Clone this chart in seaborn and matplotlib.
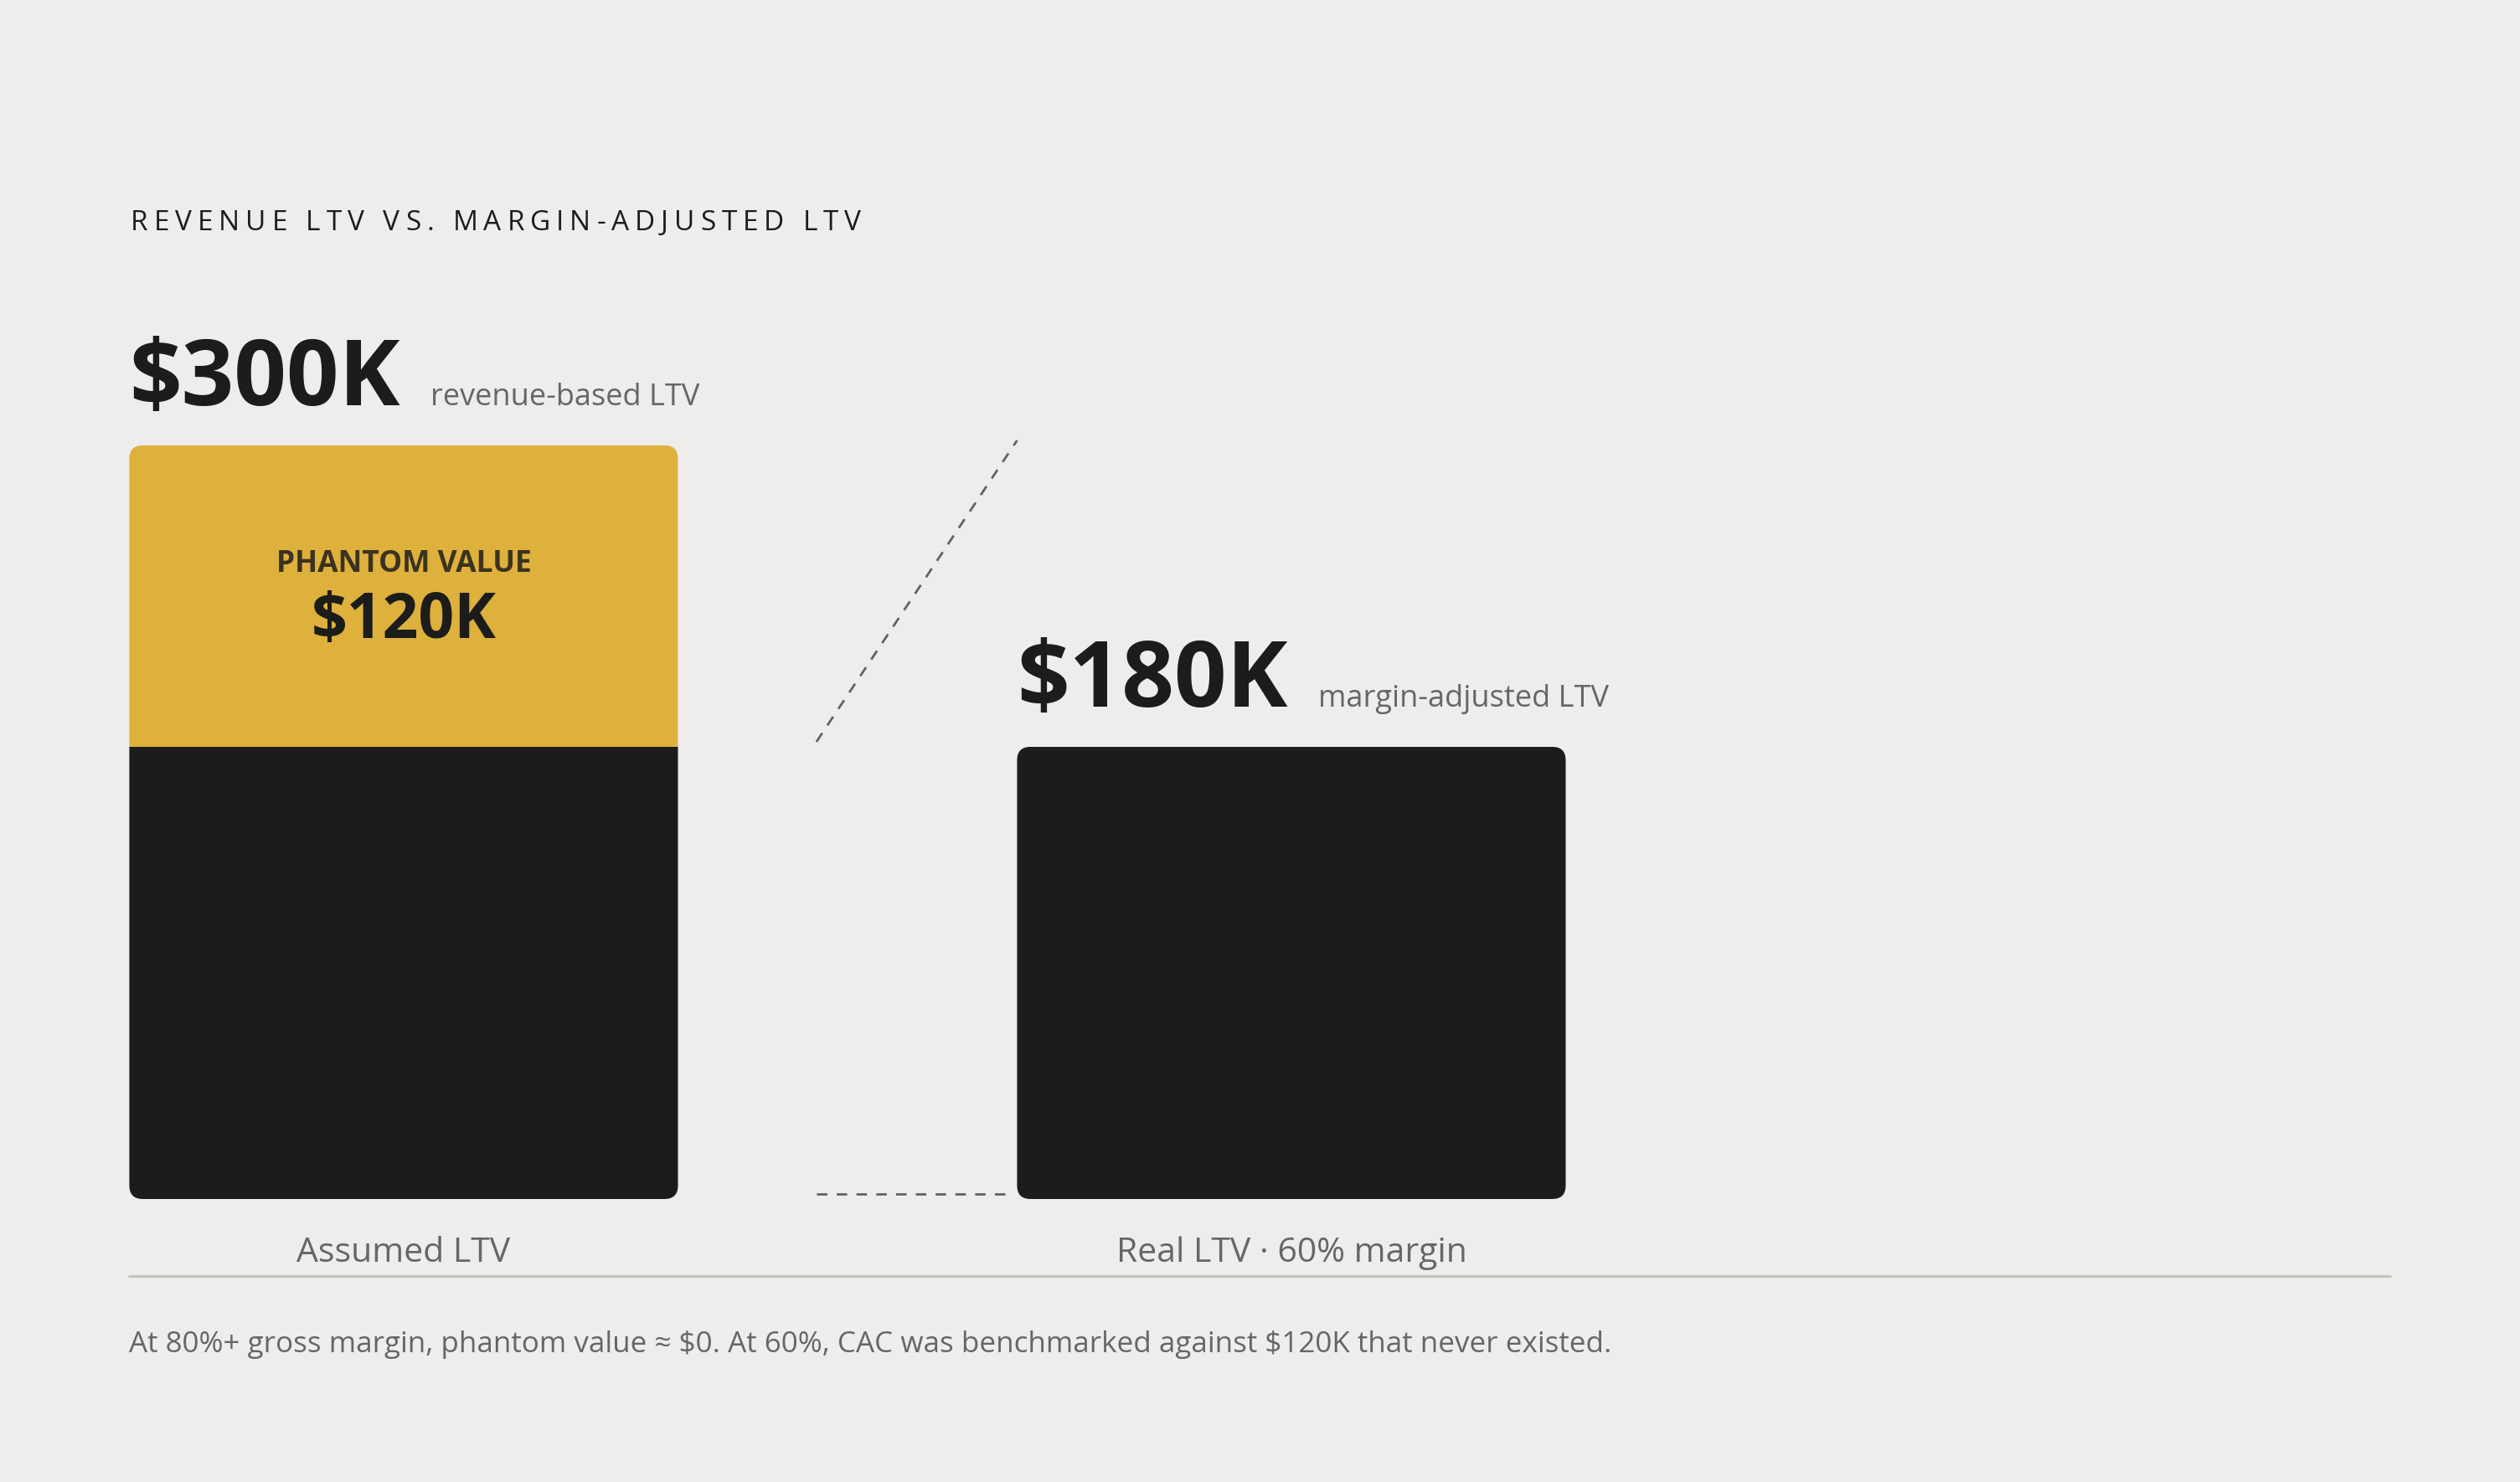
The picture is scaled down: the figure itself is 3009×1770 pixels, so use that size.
import matplotlib
matplotlib.use("Agg")
import matplotlib.pyplot as plt
from matplotlib.patches import FancyBboxPatch
from matplotlib.lines import Line2D
import pandas as pd
import seaborn as sns

# ---- data ($K) ----
categories = ["Assumed LTV", "Real LTV · 60% margin"]
real_value = [180, 180]       # margin-adjusted part
phantom_value = [120, 0]      # revenue that never turns into gross profit
headline = ["$300K", "$180K"]
headline_note = ["revenue-based LTV", "margin-adjusted LTV"]
phantom_label = "PHANTOM VALUE"
phantom_amount = "$120K"
title = "REVENUE LTV VS. MARGIN-ADJUSTED LTV"
footnote = ("At 80%+ gross margin, phantom value ≈ $0. At 60%, CAC was "
            "benchmarked against $120K that never existed.")

# ---- colours ----
BG = "#EEEDEB"
INK = "#1C1C1A"
GOLD = "#DEB03C"
GREY = "#666664"
RULE = "#C3C3C0"
PHANTOM_INK = "#3B3320"

df = pd.DataFrame({"category": categories, "real": real_value, "phantom": phantom_value})
df["total"] = df["real"] + df["phantom"]

sns.set_theme(style="white", rc={"figure.facecolor": BG, "axes.facecolor": BG})
plt.rcParams["font.family"] = ["Open Sans", "DejaVu Sans"]
plt.rcParams["text.parse_math"] = False   # plain "$" signs

W, H = 3009, 1770
fig = plt.figure(figsize=(W / 100, H / 100), dpi=100)
ax = fig.add_axes([0, 0, 1, 1])

bar_w = 0.618
sns.barplot(data=df, x="category", y="real", color=INK, width=bar_w,
            errorbar=None, saturation=1, linewidth=0, ax=ax)
sns.barplot(data=df, x="category", y="phantom", bottom=df["real"].tolist(),
            color=GOLD, width=bar_w, errorbar=None, saturation=1,
            linewidth=0, ax=ax)

ax.set_xlim(-0.4547, 2.3840)
ax.set_ylim(-112.67, 477.33)
ax.axis("off")

# rounded corners: clip the square bars with a rounded box per category
p0, p1 = ax.transData.transform([(0, 0), (1, 1)])
px_x, px_y = p1[0] - p0[0], p1[1] - p0[1]
radius = 16 / px_x
bars = list(ax.patches)
for i, row in df.iterrows():
    left = i - bar_w / 2
    clip = FancyBboxPatch((left, 0), bar_w, row["total"],
                          boxstyle=f"round,pad=0,rounding_size={radius}",
                          mutation_aspect=px_x / px_y,
                          transform=ax.transData, facecolor="none", edgecolor="none")
    for b in bars:
        if abs(b.get_x() + b.get_width() / 2 - i) < 0.1:
            b.set_clip_path(clip)

# value labels above bars + category labels below
for i, row in df.iterrows():
    left = i - bar_w / 2
    ax.text(left, row["total"] + 16, headline[i], fontsize=79, fontweight="bold",
            color=INK, ha="left", va="baseline")
    ax.text(left + 0.339, row["total"] + 16, headline_note[i], fontsize=26,
            color=GREY, ha="left", va="baseline")
    ax.text(i, -25, categories[i], fontsize=29.5, color=GREY, ha="center", va="baseline")

# phantom slice label
ax.text(0, df.loc[0, "total"] - 50.3, phantom_label, fontsize=25.5, fontweight="bold",
        color=PHANTOM_INK, ha="center", va="baseline")
ax.text(0, df.loc[0, "total"] - 76.7, phantom_amount, fontsize=54, fontweight="bold",
        color=INK, ha="center", va="baseline")

# dashed connector between the two tops / bottoms (drawn bottom-up)
gap_x = 0.465
right_left = 1 - bar_w / 2
dash = dict(color="#626260", lw=2, dashes=(4.5, 4))
ax.plot([gap_x, right_left], [df.loc[1, "real"] + 2, df.loc[0, "total"] + 2], **dash)
ax.plot([gap_x, right_left - 0.01], [2, 2], **dash)

# letter-spaced title
renderer = fig.canvas.get_renderer()
title_kw = dict(fontsize=24, color=INK, ha="left", va="baseline")


def text_width(s):
    t = fig.text(0, 0, s, **title_kw)
    w = t.get_window_extent(renderer).width
    t.remove()
    return w


track = 6.9
ref_w = text_width("I")
for k, ch in enumerate(title):
    if ch == " ":
        continue
    off = text_width(title[:k] + "I") - ref_w if k else 0
    fig.text((156 + off + k * track) / W, 1 - 275 / H, ch, **title_kw)

# rule and footnote
fig.add_artist(Line2D([154 / W, 2854 / W], [1 - 1524 / H] * 2, color=RULE, lw=2.2))
fig.text(154 / W, 1 - 1615 / H, footnote, fontsize=25.2, color=GREY, ha="left", va="baseline")

fig.savefig("out.png", dpi=100, facecolor=BG)
